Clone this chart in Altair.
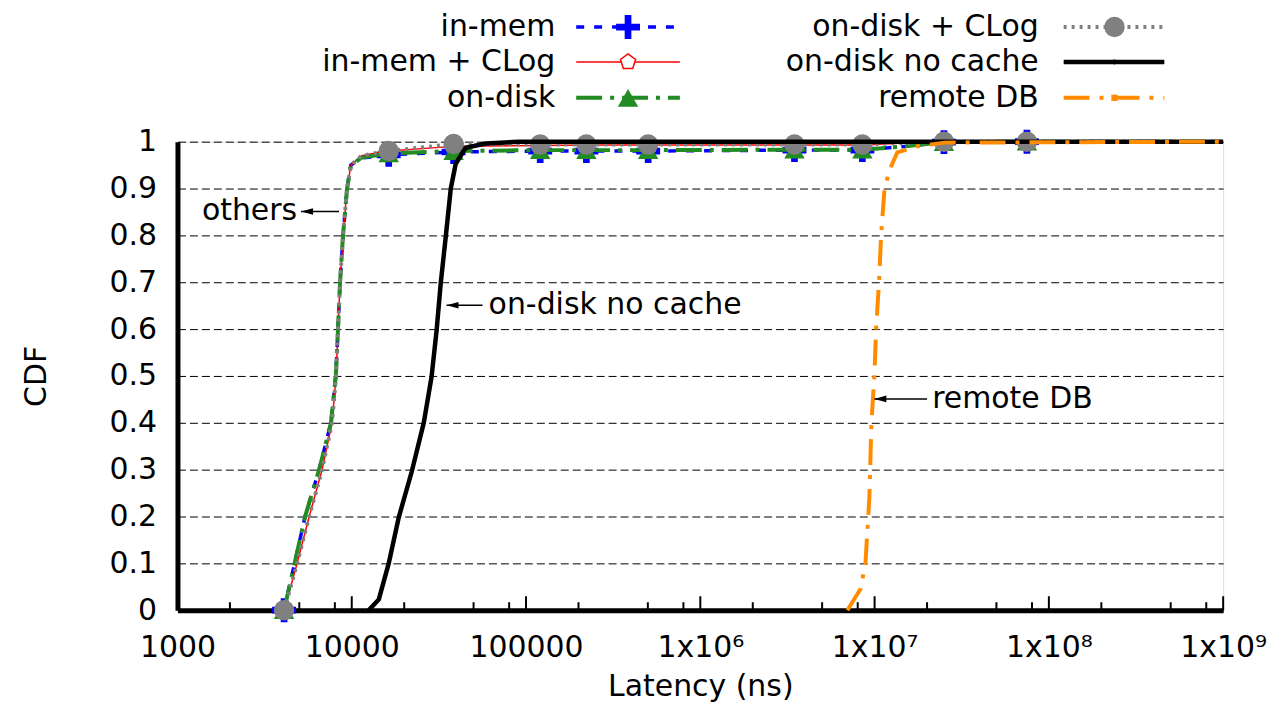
import altair as alt
import pandas as pd

FONT = "DejaVu Sans"
FS = 30

# ---------------- data ----------------
series_names = ["in-mem", "in-mem + CLog", "on-disk", "on-disk + CLog", "on-disk no cache", "remote DB"]

inmem_lat = [4090, 4700, 5400, 6500, 7600, 8100, 8340, 8570, 8910, 9400, 9890, 11400, 16300, 38400,
             120600, 222000, 502000, 3470000, 8510000, 15000000, 25000000, 74800000, 1000000000]
inmem_cdf = [0, 0.10, 0.20, 0.30, 0.40, 0.50, 0.60, 0.70, 0.80, 0.90, 0.95, 0.965, 0.972, 0.978,
             0.980, 0.980, 0.980, 0.982, 0.982, 0.990, 0.999, 1.0, 1.0]

clog_lat = [4090, 4860, 5700, 6760, 7710, 8130, 8340, 8570, 8910, 9400, 9890, 11400, 14300, 16300, 38400,
            120600, 222000, 502000, 3470000, 8510000, 15000000, 25000000, 74800000, 1000000000]
clog_cdf = [0, 0.10, 0.20, 0.30, 0.40, 0.50, 0.60, 0.70, 0.80, 0.90, 0.95, 0.97, 0.977, 0.98, 0.99,
            0.992, 0.993, 0.993, 0.993, 0.993, 0.997, 1.0, 1.0, 1.0]

disk_lat = [4090, 4700, 5400, 6500, 7600, 8100, 8340, 8570, 8910, 9400, 9890, 11400, 16300, 38400,
            120600, 222000, 502000, 3470000, 8510000, 15000000, 25000000, 74800000, 1000000000]
disk_cdf = [0, 0.10, 0.20, 0.30, 0.40, 0.50, 0.60, 0.70, 0.80, 0.90, 0.95, 0.966, 0.975, 0.980,
            0.982, 0.982, 0.982, 0.983, 0.983, 0.990, 0.999, 1.0, 1.0]

diskclog_lat = [4090, 4860, 5700, 6760, 7710, 8130, 8340, 8570, 8910, 9400, 9890, 11400, 14300, 16300, 38400,
                120600, 222000, 502000, 3470000, 8510000, 15000000, 25000000, 74800000, 1000000000]
diskclog_cdf = [0, 0.10, 0.20, 0.30, 0.40, 0.50, 0.60, 0.70, 0.80, 0.90, 0.95, 0.97, 0.977, 0.98, 0.995,
                0.994, 0.994, 0.994, 0.994, 0.994, 0.997, 1.0, 1.0, 1.0]

nocache_lat = [12500, 14300, 16300, 18600, 22100, 25900, 28700, 30700, 32400, 34600, 37000, 39500,
               45000, 58600, 90600, 1000000000]
nocache_cdf = [0, 0.023, 0.10, 0.198, 0.296, 0.40, 0.498, 0.598, 0.698, 0.796, 0.90, 0.953,
               0.987, 0.996, 1.0, 1.0]

remote_lat = [6980000, 8300000, 8860000, 9330000, 9590000, 9970000, 10200000, 10600000, 10900000,
              11400000, 12200000, 13500000, 17600000, 25100000, 1000000000]
remote_cdf = [0, 0.045, 0.10, 0.24, 0.40, 0.50, 0.60, 0.70, 0.80, 0.90, 0.94, 0.977, 0.99, 0.998, 1.0]

marker_lat = [4090, 16300, 38400, 120600, 222000, 502000, 3470000, 8510000, 25000000, 74800000]

x_major = [1000, 10000, 100000, 1000000, 10000000, 100000000, 1000000000]
x_minor = [2000, 5000, 8000, 20000, 50000, 80000, 200000, 500000, 800000,
           2000000, 5000000, 8000000, 20000000, 50000000, 80000000,
           200000000, 500000000, 800000000]
y_ticks = [0, 0.1, 0.2, 0.3, 0.4, 0.5, 0.6, 0.7, 0.8, 0.9, 1.0]

ann_text = ["others", "on-disk no cache", "remote DB"]
ann_lat = [4860, 61000, 21400000]
ann_cdf = [0.851, 0.651, 0.451]
arrow_tail = [8450, 56300, 20000000]
arrow_head = [5120, 35000, 9970000]

# ---------------- styles ----------------
styles = {
    "in-mem": dict(color="#0000ff", width=3.5, dash=[8, 10], shape="M-1,-0.28L-1,0.28L-0.28,0.28L-0.28,1L0.28,1L0.28,0.28L1,0.28L1,-0.28L0.28,-0.28L0.28,-1L-0.28,-1L-0.28,-0.28Z", filled=True, size=576),
    "in-mem + CLog": dict(color="#ff0000", width=1.5, dash=None, shape="M0,-1L0.951,-0.309L0.588,0.809L-0.588,0.809L-0.951,-0.309Z", filled=False, size=256),
    "on-disk": dict(color="#228b22", width=4, dash=[26, 8, 4, 8], shape="triangle-up", filled=True, size=420),
    "on-disk + CLog": dict(color="#808080", width=4, dash=[3, 5], shape="circle", filled=True, size=420),
    "on-disk no cache": dict(color="#000000", width=4.5, dash=None, shape="circle", filled=True, size=25),
    "remote DB": dict(color="#ff8c00", width=4, dash=[26, 10, 4, 10], shape="square", filled=True, size=40),
}

frames = []
for name, lat, cdf in [("in-mem", inmem_lat, inmem_cdf), ("in-mem + CLog", clog_lat, clog_cdf),
                       ("on-disk", disk_lat, disk_cdf), ("on-disk + CLog", diskclog_lat, diskclog_cdf),
                       ("on-disk no cache", nocache_lat, nocache_cdf), ("remote DB", remote_lat, remote_cdf)]:
    frames.append(pd.DataFrame({"series": name, "lat": lat, "cdf": cdf, "idx": range(len(lat))}))
df = pd.concat(frames, ignore_index=True)

W, H = 1049, 470

xscale = alt.Scale(type="log", domain=[1000, 1000000000], nice=False)
yscale = alt.Scale(domain=[0, 1], nice=False, zero=False)

label_expr = ("datum.value == 1000000 ? '1x10⁶' : datum.value == 10000000 ? '1x10⁷' : "
              "datum.value == 100000000 ? '1x10⁸' : datum.value == 1000000000 ? '1x10⁹' : "
              "format(datum.value, 'd')")

xaxis = alt.Axis(values=x_major, labelExpr=label_expr, title="Latency (ns)", grid=False, ticks=False,
                 tickSize=0, domainWidth=5, domainColor="black", labelFont=FONT, labelFontSize=FS,
                 labelColor="black", labelPadding=22, labelFlush=False, labelOverlap=False,
                 titleFont=FONT, titleFontSize=FS, titleFontWeight="normal", titleColor="black",
                 titlePadding=10)
yaxis = alt.Axis(values=y_ticks, format=".1~f", title="CDF", grid=True, gridColor="black",
                 gridDash=[8, 4], gridWidth=1, gridOpacity=1, ticks=False, tickSize=0, domainWidth=5,
                 domainColor="black", labelFont=FONT, labelFontSize=FS, labelColor="black",
                 labelPadding=21, labelFlush=False, labelOverlap=False, titleFont=FONT,
                 titleFontSize=FS, titleFontWeight="normal", titleColor="black", titlePadding=58)


def X(field):
    return alt.X(field, type="quantitative", scale=xscale, axis=xaxis)


def Y(field):
    return alt.Y(field, type="quantitative", scale=yscale, axis=yaxis)


layers = []
base = alt.Chart(df)
for name in series_names:
    st = styles[name]
    lkw = dict(color=st["color"], strokeWidth=st["width"], clip=False)
    if st["dash"]:
        lkw["strokeDash"] = st["dash"]
    layers.append(base.transform_filter(alt.datum.series == name).mark_line(**lkw).encode(
        x=X("lat"), y=Y("cdf"), order="idx:Q"))
    if name in ["in-mem", "in-mem + CLog", "on-disk", "on-disk + CLog"]:
        pkw = dict(shape=st["shape"], size=st["size"], filled=st["filled"], opacity=1)
        if st["filled"]:
            pkw.update(fill=st["color"], strokeWidth=0)
        else:
            pkw.update(stroke=st["color"], strokeWidth=1.5, fill="white", fillOpacity=0)
        layers.append(base.transform_filter(alt.datum.series == name)
                      .transform_filter(alt.FieldOneOfPredicate(field="lat", oneOf=marker_lat))
                      .mark_point(**pkw).encode(x=X("lat"), y=Y("cdf")))

# inward x ticks
tick_df = pd.DataFrame({"tick": x_major + x_minor, "major": [1] * len(x_major) + [0] * len(x_minor)})
layers.append(alt.Chart(tick_df).transform_filter(alt.datum.major == 1).mark_rule(color="black", strokeWidth=2)
              .encode(x=X("tick"), y=alt.value(H - 14), y2=alt.value(H)))
layers.append(alt.Chart(tick_df).transform_filter(alt.datum.major == 0).mark_rule(color="black", strokeWidth=2)
              .encode(x=X("tick"), y=alt.value(H - 8), y2=alt.value(H)))

# annotations
ann_df = pd.DataFrame({"text": ann_text, "lat": ann_lat, "cdf": ann_cdf,
                       "tail": arrow_tail, "head": arrow_head})
layers.append(alt.Chart(ann_df).mark_rule(color="black", strokeWidth=1.5).encode(
    x=X("head"), x2="tail", y=Y("cdf")))
layers.append(alt.Chart(ann_df).mark_point(shape="M0,0L2,-0.55L2,0.55Z", size=144, filled=True,
                                            fill="black", strokeWidth=0, opacity=1).encode(
    x=X("head"), y=Y("cdf")))
layers.append(alt.Chart(ann_df).transform_filter(alt.datum.text == "others").mark_text(
    align="right", baseline="middle", font=FONT, fontSize=FS, color="black").encode(
    x=X("lat"), y=Y("cdf"), text="text:N"))
layers.append(alt.Chart(ann_df).transform_filter(alt.datum.text != "others").mark_text(
    align="left", baseline="middle", font=FONT, fontSize=FS, color="black").encode(
    x=X("lat"), y=Y("cdf"), text="text:N"))

# manual legend (label right-aligned, sample to the right)
leg_pos = {
    "in-mem": (379, 400, 504, 452, -115),
    "in-mem + CLog": (379, 400, 504, 452, -80),
    "on-disk": (379, 400, 504, 452, -44),
    "on-disk + CLog": (864, 889, 990, 940, -115),
    "on-disk no cache": (864, 889, 990, 940, -80),
    "remote DB": (864, 889, 990, 940, -44),
}
for name in series_names:
    st = styles[name]
    lx, r1, r2, mx, py = leg_pos[name]
    ldf = pd.DataFrame({"label": [name]})
    layers.append(alt.Chart(ldf).mark_text(align="right", baseline="middle", font=FONT, fontSize=FS,
                                           color="black").encode(
        text="label:N", x=alt.value(lx), y=alt.value(py)))
    rkw = dict(color=st["color"], strokeWidth=st["width"])
    if st["dash"]:
        rkw["strokeDash"] = st["dash"]
    layers.append(alt.Chart(ldf).mark_rule(**rkw).encode(
        x=alt.value(r1), x2=alt.value(r2), y=alt.value(py)))
    pkw = dict(shape=st["shape"], size=st["size"], filled=st["filled"], opacity=1)
    if st["filled"]:
        pkw.update(fill=st["color"], strokeWidth=0)
    else:
        pkw.update(stroke=st["color"], strokeWidth=1.5, fill="white", fillOpacity=1)
    layers.append(alt.Chart(ldf).mark_point(**pkw).encode(x=alt.value(mx), y=alt.value(py)))

chart = alt.layer(*layers).properties(
    width=W, height=H,
    padding={"left": 170, "top": 133, "right": 50, "bottom": 100},
    autosize=alt.AutoSizeParams(type="none"),
).configure_view(strokeWidth=0).configure(background="white")

chart.save("out.html", embed_options={"renderer": "svg", "actions": False})
